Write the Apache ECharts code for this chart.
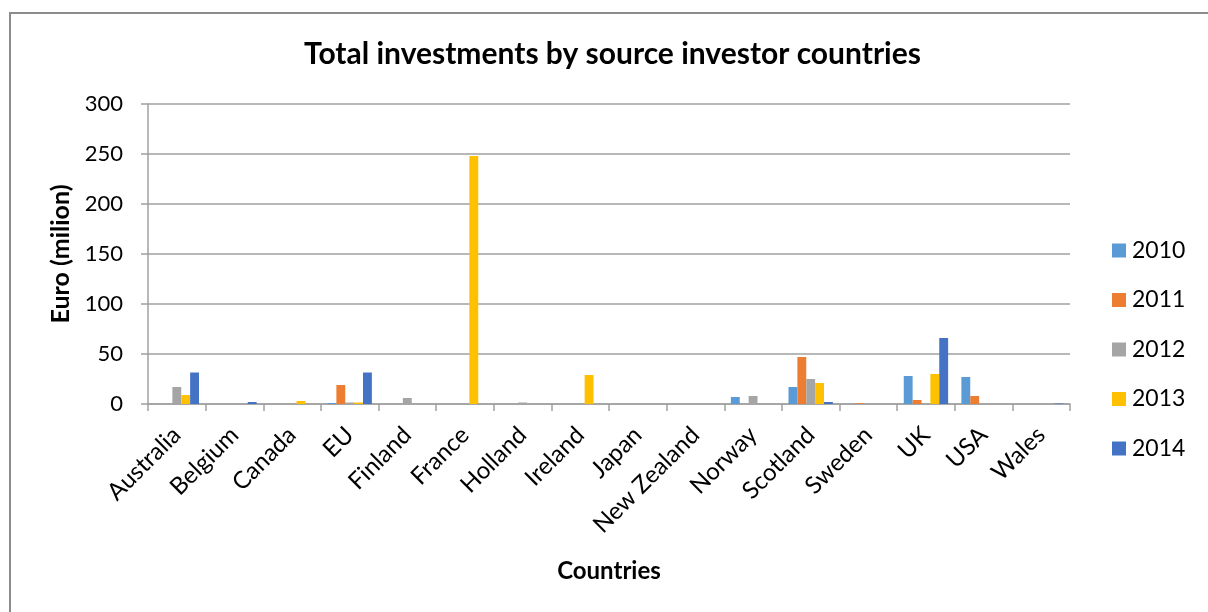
<!DOCTYPE html>
<html>
<head>
<meta charset="utf-8">
<style>
  html, body { margin: 0; padding: 0; background: #fff; }
  #chart { width: 1208px; height: 612px; }
</style>
<script src="https://cdn.jsdelivr.net/npm/echarts@6/dist/echarts.min.js"></script>
</head>
<body>
<div id="chart"></div>
<script>
// Source countries on the category axis
const countries = ['Australia', 'Belgium', 'Canada', 'EU', 'Finland', 'France', 'Holland', 'Ireland',
  'Japan', 'New Zealand', 'Norway', 'Scotland', 'Sweden', 'UK', 'USA', 'Wales'];

// Investment per year, Euro (milion)
const y2010 = [0, 0, 0, 1, 0, 0, 0, 0, 0, 0, 7, 17, 0, 28, 27, 0];
const y2011 = [0, 0, 0, 19, 0, 0, 0, 0, 0, 0, 0, 47, 0.7, 4, 8, 0];
const y2012 = [17, 0, 0, 1.5, 6, 0, 1.5, 0, 0, 0, 8, 25, 0, 0, 0, 0];
const y2013 = [9, 0, 3, 1.5, 0, 248, 0, 29, 0, 0, 0, 21, 0, 30, 0, 0];
const y2014 = [31.5, 2, 0, 31.5, 0, 0, 0, 0, 0, 0, 0, 2, 0, 66, 0, 0.5];

const years = ['2010', '2011', '2012', '2013', '2014'];
const yearValues = [y2010, y2011, y2012, y2013, y2014];
const yearColors = ['#5B9BD5', '#ED7D31', '#A5A5A5', '#FFC000', '#4472C4'];

const FONT = 'Lato, "Open Sans", sans-serif';
const GRID_GRAY = '#a0a0a0';

const chart = echarts.init(document.getElementById('chart'), null, { renderer: 'canvas' });

chart.setOption({
  backgroundColor: '#ffffff',
  animation: false,
  textStyle: { fontFamily: FONT, color: '#000' },
  title: {
    text: 'Total investments by source investor countries',
    left: 304,
    top: 39,
    padding: 0,
    textStyle: { fontFamily: FONT, fontSize: 30, fontWeight: 'bold', color: '#000' }
  },
  graphic: [{
    type: 'rect',
    shape: { x: 10, y: 13, width: 1400, height: 800 },
    style: { fill: 'none', stroke: '#8c8c8c', lineWidth: 2 },
    silent: true,
    z: -1
  }],
  legend: {
    orient: 'vertical',
    left: 1112,
    top: 239,
    padding: 0,
    itemWidth: 14,
    itemHeight: 14,
    itemGap: 26.5,
    icon: 'rect',
    textStyle: { fontFamily: FONT, fontSize: 23, color: '#000', lineHeight: 22, padding: [0, 0, 0, 1] },
    data: years
  },
  grid: { left: 148, right: 138, top: 104, bottom: 208, containLabel: false },
  xAxis: {
    type: 'category',
    data: countries,
    boundaryGap: true,
    name: 'Countries',
    nameLocation: 'middle',
    nameGap: 167,
    nameTextStyle: { fontFamily: FONT, fontSize: 24, fontWeight: 'bold', color: '#000', verticalAlign: 'middle' },
    axisLine: { show: true, lineStyle: { color: GRID_GRAY, width: 1.5 } },
    axisTick: { show: true, alignWithLabel: false, length: 7, lineStyle: { color: GRID_GRAY, width: 1.5 } },
    axisLabel: { rotate: 45, interval: 0, margin: 27, fontFamily: FONT, fontSize: 24, color: '#000' },
    splitLine: { show: false }
  },
  yAxis: {
    type: 'value',
    min: 0,
    max: 300,
    interval: 50,
    name: 'Euro (milion)',
    nameLocation: 'middle',
    nameRotate: 90,
    nameGap: 86,
    nameTextStyle: { fontFamily: FONT, fontSize: 25, fontWeight: 'bold', color: '#000', verticalAlign: 'middle' },
    axisLine: { show: true, lineStyle: { color: GRID_GRAY, width: 1.5 } },
    axisTick: { show: true, inside: false, length: 7, lineStyle: { color: GRID_GRAY, width: 1.5 } },
    axisLabel: { margin: 25, fontFamily: FONT, fontSize: 22, color: '#000' },
    splitLine: { show: true, lineStyle: { color: GRID_GRAY, width: 1.5 } }
  },
  series: years.map((yr, i) => ({
    name: yr,
    type: 'bar',
    data: yearValues[i],
    itemStyle: { color: yearColors[i] },
    barGap: '0%',
    barCategoryGap: '23%'
  }))
});
</script>
</body>
</html>
